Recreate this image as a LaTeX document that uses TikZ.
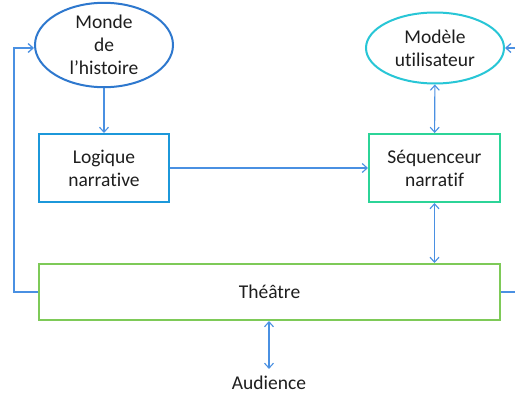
\documentclass[tikz,border=0pt]{standalone}
\usepackage{fontspec}
\setmainfont{Carlito}[Ligatures={NoCommon}]
\usetikzlibrary{shapes.geometric,arrows.meta}
\definecolor{cMonde}{RGB}{46,120,206}
\definecolor{cModele}{RGB}{40,198,214}
\definecolor{cLog}{RGB}{28,152,218}
\definecolor{cSeq}{RGB}{44,212,152}
\definecolor{cTh}{RGB}{126,202,88}
\definecolor{cArr}{RGB}{74,144,226}
\definecolor{cTxt}{RGB}{30,30,30}
\tikzset{
  lbl/.style={font=\fontsize{19.5}{23}\selectfont, text=cTxt, align=center},
  ell/.style={lbl, ellipse, draw, line width=2pt, inner sep=0pt},
  box/.style={lbl, rectangle, draw, line width=2pt, inner sep=0pt},
  arr/.style={draw=cArr, line width=1.1pt, -{Straight Barb[length=5pt,width=9pt]}},
  darr/.style={draw=cArr, line width=1.1pt, {Straight Barb[length=5pt,width=9pt]}-{Straight Barb[length=5pt,width=9pt]}},
  fb/.style={draw=cArr, line width=1.3pt}
}
\begin{document}
\begin{tikzpicture}[x=1pt,y=-1pt]
\clip (0,0) rectangle (515,394);
\fill[white] (0,0) rectangle (515,394);
\node[ell, draw=cMonde, minimum width=138pt, minimum height=81pt] (monde) at (104,45) {Monde\\de\\l’histoire};
\node[ell, draw=cModele, minimum width=138pt, minimum height=71pt] (modele) at (435,48) {Modèle\\utilisateur};
\node[box, draw=cLog, minimum width=130pt, minimum height=68pt] (logique) at (104,168) {Logique\\narrative};
\node[box, draw=cSeq, minimum width=131pt, minimum height=68pt] (seq) at (434.5,168) {Séquenceur\\narratif};
\node[box, draw=cTh, minimum width=461pt, minimum height=56pt] (theatre) at (269.5,292) {Théâtre};
\node[lbl, inner sep=1pt] (audience) at (269,383) {Audience};
\coordinate (lcorner) at (14,292);
\coordinate (rcorner) at (530,292);
\draw[arr] (monde) -- (logique);
\draw[arr] (logique) -- (seq);
\draw[darr] (modele) -- (seq);
\draw[darr] (seq.south) -- (seq.south |- theatre.north);
\draw[darr] (theatre.south -| audience) -- ([yshift=6pt]audience.north);
\draw[fb, -{Straight Barb[length=5pt,width=9pt]}] (theatre.west) -- (lcorner) |- ([yshift=-3pt]monde.west);
\draw[fb, -{Straight Barb[length=5pt,width=9pt]}] (theatre.east) -- (rcorner) |- (modele.east);
\end{tikzpicture}
\end{document}
